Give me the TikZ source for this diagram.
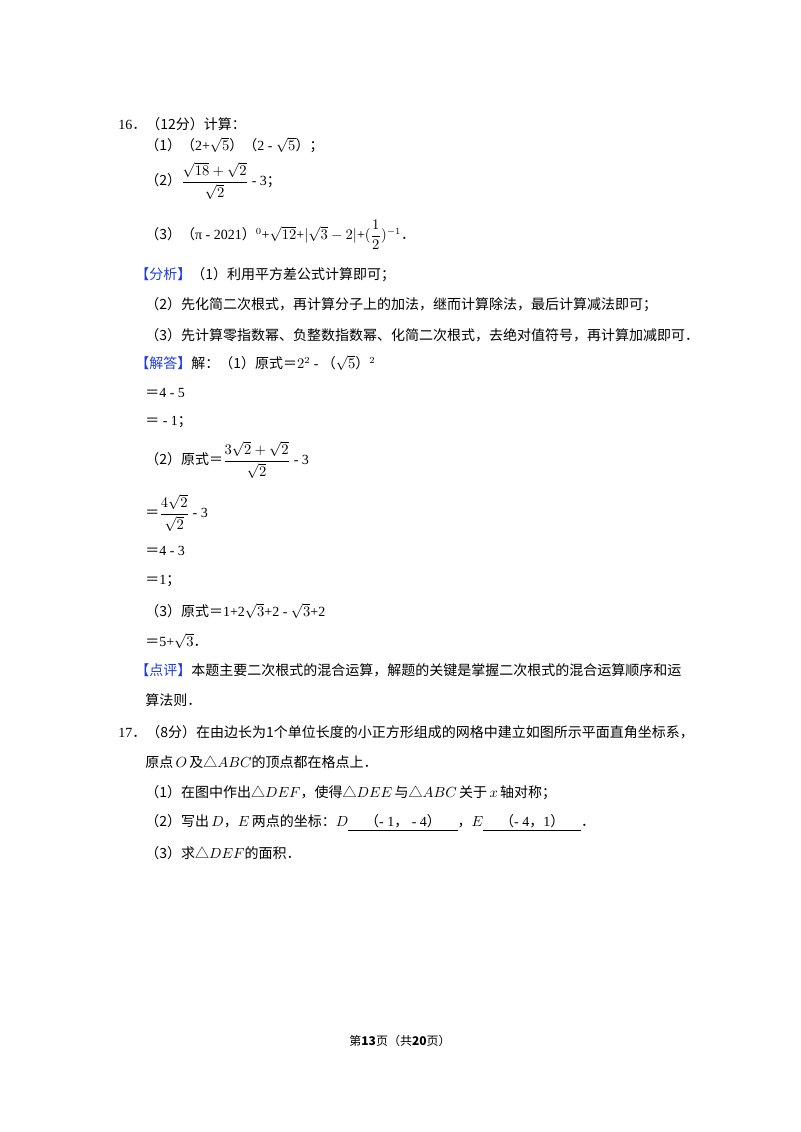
\documentclass[tikz,border=0pt]{standalone}
\usepackage{fontspec}
\setmainfont{Liberation Serif}
\newfontfamily\cjk{Noto Sans CJK SC}
\usepackage{amsmath}
\definecolor{bl}{RGB}{30,60,220}
\tikzset{t/.style={anchor=west,inner sep=0pt,font=\fontsize{10.5pt}{12pt}\selectfont}}
\newcommand{\C}[1]{{\cjk #1}}
\newcommand{\B}[1]{{\cjk\color{bl}#1}}
\newcommand{\Lp}{\C{（}}
\newcommand{\Rp}{\C{）}}
\newcommand{\Tr}{\C{△}}
\begin{document}
\begin{tikzpicture}[x=0.75pt,y=-0.75pt]
\useasboundingbox (0,0) rectangle (800,1132);
\node[t] (a1) at (118,124) {16\C{．（12分）计算：}};
\node[t] (a2) at (145,145) {\C{（1）}\Lp 2+$\sqrt{5}$\Rp\Lp 2 - $\sqrt{5}$\Rp\C{；}};
\node[t] (a3) at (145,181) {\C{（2）}$\dfrac{\sqrt{18}+\sqrt{2}}{\sqrt{2}}$ - 3\C{；}};
\node[t] (a4) at (145,235) {\C{（3）}\Lp π - 2021\Rp$^0$+$\sqrt{12}$+$|\sqrt{3}-2|$+$(\dfrac{1}{2})^{-1}$\C{．}};
\node[t] (a5) at (135,275) {\B{【分析】}\C{（1）利用平方差公式计算即可；}};
\node[t] (a6) at (145,305) {\C{（2）先化简二次根式，再计算分子上的加法，继而计算除法，最后计算减法即可；}};
\node[t] (a7) at (145,335) {\C{（3）先计算零指数幂、负整数指数幂、化简二次根式，去绝对值符号，再计算加减即可．}};
\node[t] (a8) at (135,363) {\B{【解答】}\C{解：（1）原式＝}$2^2$ - \Lp$\sqrt{5}$\Rp$^2$};
\node[t] (a9) at (145,393) {\C{＝}4 - 5};
\node[t] (a10) at (145,422) {\C{＝} - 1\C{；}};
\node[t] (a11) at (145,460) {\C{（2）原式＝}$\dfrac{3\sqrt{2}+\sqrt{2}}{\sqrt{2}}$ - 3};
\node[t] (a12) at (145,513) {\C{＝}$\dfrac{4\sqrt{2}}{\sqrt{2}}$ - 3};
\node[t] (a13) at (145,551) {\C{＝}4 - 3};
\node[t] (a14) at (145,581) {\C{＝}1\C{；}};
\node[t] (a15) at (145,611) {\C{（3）原式＝}1+2$\sqrt{3}$+2 - $\sqrt{3}$+2};
\node[t] (a16) at (145,641) {\C{＝}5+$\sqrt{3}$\C{．}};
\node[t] (a17) at (135,670) {\B{【点评】}\C{本题主要二次根式的混合运算，解题的关键是掌握二次根式的混合运算顺序和运}};
\node[t] (a18) at (145,700) {\C{算法则．}};
\node[t] (b1) at (118,732) {17\C{．（8分）在由边长为1个单位长度的小正方形组成的网格中建立如图所示平面直角坐标系，}};
\node[t] (b2) at (145,762) {\C{原点}\,$O$\,\C{及}\Tr$ABC$\C{的顶点都在格点上．}};
\node[t] (b3) at (145,793) {\C{（1）在图中作出}\Tr$DEF$\C{，使得}\Tr$DEE$\,\C{与}\Tr$ABC$\,\C{关于}\,$x$\,\C{轴对称；}};
\node[t] (b4) at (145,823) {\C{（2）写出}\,$D$\C{，}$E$\,\C{两点的坐标：}$D$\underline{\hspace{1.2em}\Lp - 1\C{，} - 4\Rp\hspace{1.2em}}\C{，}$E$\underline{\hspace{1.2em}\Lp - 4\C{，}1\Rp\hspace{1.2em}}\C{．}};
\node[t] (b5) at (145,853) {\C{（3）求}\Tr$DEF$\C{的面积．}};
\node[inner sep=0pt,font=\fontsize{9pt}{10pt}\selectfont] (f) at (400,1041) {\C{第\textbf{13}页（共\textbf{20}页）}};
\end{tikzpicture}
\end{document}
